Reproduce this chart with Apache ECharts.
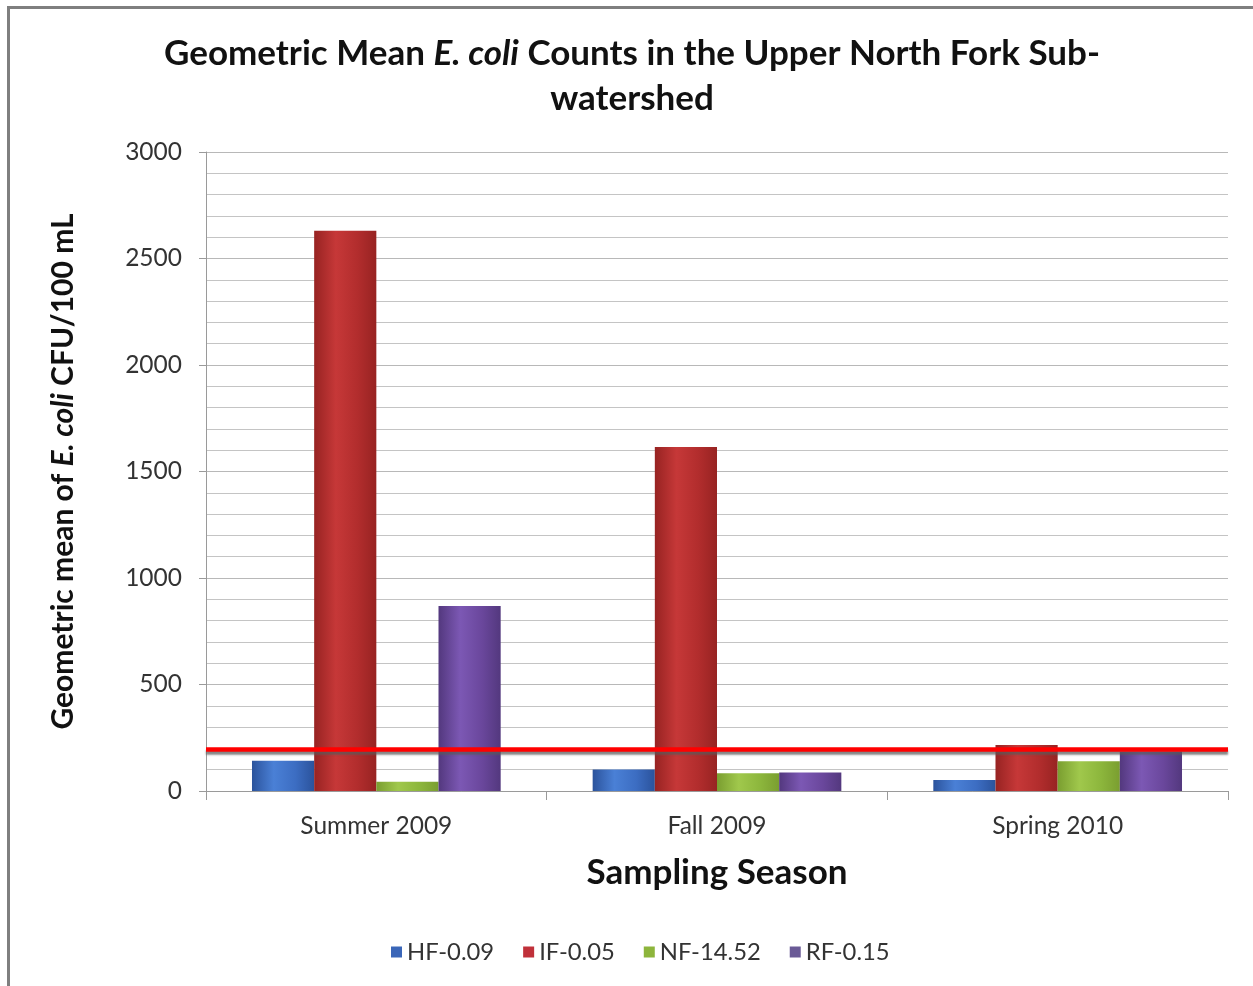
<!DOCTYPE html>
<html>
<head>
<meta charset="utf-8">
<script src="https://cdn.jsdelivr.net/npm/echarts@6/dist/echarts.min.js"></script>
<style>
  html, body { margin: 0; padding: 0; background: #ffffff; }
  #wrap { position: relative; width: 1253px; height: 986px; overflow: hidden; }
  #chart { position: absolute; left: 0; top: 0; width: 1253px; height: 986px; }
  #frame { position: absolute; left: 7px; top: 6px; width: 1260px; height: 1000px;
           border-top: 3px solid #7f7f7f; border-left: 3px solid #7f7f7f; pointer-events: none; }
</style>
</head>
<body>
<div id="wrap">
  <div id="chart"></div>
  <div id="frame"></div>
</div>
<script>
// Sampling seasons on the x axis
const seasons = ['Summer 2009', 'Fall 2009', 'Spring 2010'];

// Geometric mean E. coli (CFU/100 mL) per station
const hf009 = [142, 101, 52];
const if005 = [2630, 1615, 216];
const nf1452 = [44, 83, 140];
const rf015 = [868, 87, 185];

// Reference threshold drawn across the plot
const thresholdLine = [197];

// Value axis ticks
const yTicks = [0, 500, 1000, 1500, 2000, 2500, 3000];

const stationNames = ['HF-0.09', 'IF-0.05', 'NF-14.52', 'RF-0.15'];
const stationValues = [hf009, if005, nf1452, rf015];

const FONT = 'Lato, "Open Sans", sans-serif';

function barFill(edge, mid, light) {
  return new echarts.graphic.LinearGradient(0, 0, 1, 0, [
    { offset: 0, color: edge },
    { offset: 0.35, color: light },
    { offset: 0.7, color: mid },
    { offset: 1, color: edge }
  ]);
}

const palette = [
  { solid: '#3a66b8', fill: barFill('#2b539c', '#3c6dc2', '#4a80d6') },
  { solid: '#c0313a', fill: barFill('#972322', '#b22d2d', '#c63838') },
  { solid: '#8db53c', fill: barFill('#7a9e30', '#8cb63c', '#a0c84c') },
  { solid: '#6a5a96', fill: barFill('#53387e', '#6a479c', '#7c58b4') }
];

const series = stationNames.map((name, i) => ({
  name: name,
  type: 'bar',
  data: stationValues[i],
  barGap: '0%',
  barCategoryGap: '27%',
  itemStyle: { color: palette[i].fill },
  emphasis: { disabled: true }
}));

// Threshold line carried by the first series
series[0].markLine = {
  silent: true,
  symbol: ['none', 'none'],
  label: { show: false },
  lineStyle: {
    color: '#ff0000', width: 4.5, type: 'solid',
    shadowColor: 'rgba(90,90,90,0.75)', shadowBlur: 2, shadowOffsetY: 3
  },
  data: thresholdLine.map(v => ({ yAxis: v }))
};

const chart = echarts.init(document.getElementById('chart'), null, { renderer: 'canvas' });

chart.setOption({
  animation: false,
  backgroundColor: 'transparent',
  title: {
    text: '{b|Geometric Mean }{i|E. coli}{b| Counts in the Upper North Fork Sub-}\n{b|watershed}',
    left: 627,
    textAlign: 'center',
    top: 26,
    textStyle: {
      rich: {
        b: { fontFamily: FONT, fontWeight: 'bold', fontSize: 35, color: '#111', lineHeight: 45 },
        i: { fontFamily: FONT, fontWeight: 'bold', fontStyle: 'italic', fontSize: 35, color: '#111', lineHeight: 45 }
      }
    }
  },
  legend: {
    data: stationNames.map((n, i) => ({ name: n, itemStyle: { color: palette[i].solid } })),
    left: 386,
    top: 935,
    itemWidth: 11,
    itemHeight: 11,
    itemGap: 29,
    icon: 'rect',
    textStyle: { fontFamily: FONT, fontSize: 23.8, color: '#333' }
  },
  grid: { left: 206, right: 25, top: 152, bottom: 195, containLabel: false },
  xAxis: {
    type: 'category',
    data: seasons,
    name: 'Sampling Season',
    nameLocation: 'middle',
    nameGap: 64,
    nameTextStyle: { fontFamily: FONT, fontWeight: 'bold', fontSize: 35, color: '#111' },
    axisLine: { lineStyle: { color: '#9a9a9a', width: 1 } },
    axisTick: { show: true, length: 9, lineStyle: { color: '#9a9a9a' } },
    axisLabel: { fontFamily: FONT, fontSize: 24.5, color: '#333', margin: 23 }
  },
  yAxis: {
    type: 'value',
    min: yTicks[0],
    max: yTicks[yTicks.length - 1],
    interval: yTicks[1] - yTicks[0],
    name: '{b|Geometric mean of }{i|E. coli}{b| CFU/100 mL}',
    nameLocation: 'middle',
    nameRotate: 90,
    nameGap: 128,
    nameTextStyle: {
      rich: {
        b: { fontFamily: FONT, fontWeight: 'bold', fontSize: 30, color: '#111' },
        i: { fontFamily: FONT, fontWeight: 'bold', fontStyle: 'italic', fontSize: 30, color: '#111' }
      }
    },
    axisLine: { show: true, lineStyle: { color: '#9a9a9a', width: 1 } },
    axisTick: { show: true, length: 7, lineStyle: { color: '#9a9a9a' } },
    axisLabel: {
      fontFamily: FONT, fontSize: 24.5, color: '#333', margin: 24,
      formatter: v => String(v)
    },
    splitLine: { show: true, lineStyle: { color: '#b8b8b8', width: 1 } },
    minorTick: { show: false, splitNumber: 5 },
    minorSplitLine: { show: true, lineStyle: { color: '#c4c4c4', width: 1 } }
  },
  series: series
});
</script>
</body>
</html>
